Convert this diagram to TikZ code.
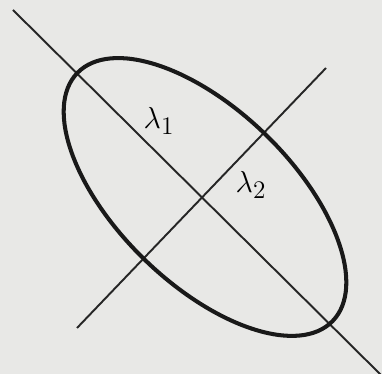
\documentclass[tikz,border=0pt]{standalone}
\begin{document}
\begin{tikzpicture}[x=0.02cm,y=-0.02cm,
  axisline/.style={line width=1.1pt,black!85},
  ellipseline/.style={line width=2.3pt,black!90},
  lbl/.style={font=\fontsize{19}{21}\selectfont,inner sep=0pt}]
\fill[fill={rgb,255:red,232;green,232;blue,230}] (0,0) rectangle (382,374);
\useasboundingbox (0,0) rectangle (382,374);
\coordinate (C) at (205,197);
\coordinate (a1) at (13,10);
\coordinate (a2) at (382,376);
\coordinate (b1) at (77,328);
\coordinate (b2) at (326,68);
\draw[axisline] (a1) -- (a2);
\draw[axisline] (b1) -- (b2);
\draw[ellipseline,rotate around={-44.2:(C)}] (C) ellipse [x radius=178, y radius=87];
\node[lbl] (l1) at (159,121) {$\lambda_1$};
\node[lbl] (l2) at (251,185) {$\lambda_2$};
\end{tikzpicture}
\end{document}
